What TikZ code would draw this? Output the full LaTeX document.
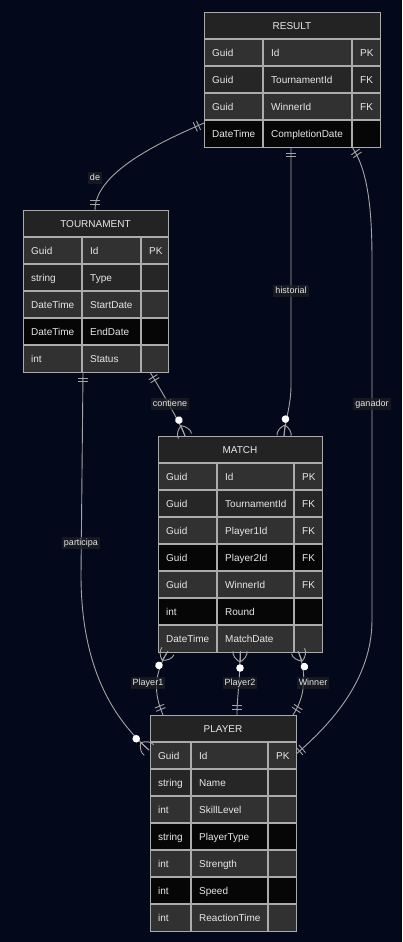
\documentclass[tikz,border=0pt]{standalone}
\usepackage{fontspec}
\setmainfont{Liberation Sans}
\definecolor{bgc}{HTML}{03091A}
\definecolor{hdrc}{HTML}{232323}
\definecolor{rowA}{HTML}{313131}
\definecolor{rowB}{HTML}{262626}
\definecolor{rowK}{HTML}{060606}
\definecolor{bordc}{HTML}{ABABAB}
\definecolor{txtc}{HTML}{E8E8E8}
\definecolor{connc}{HTML}{A5A5A5}
\definecolor{lblbg}{HTML}{1E1F24}
\tikzset{
  conn/.style={draw=connc, line width=0.9pt},
  cellline/.style={draw=bordc, line width=1.2pt},
  tablebox/.style={draw=bordc, line width=1.4pt, anchor=north west, inner sep=0pt, fill=none},
  celltext/.style={anchor=base west, inner sep=0pt, text=txtc, font=\fontsize{10}{11}\selectfont},
  hdrtext/.style={anchor=base, inner sep=0pt, text=txtc, font=\fontsize{10}{11}\selectfont},
  lbl/.style={fill=lblbg, fill opacity=0.75, text opacity=1, text=txtc, inner sep=2pt,
    text height=6.6pt, text depth=1.9pt, font=\fontsize{9}{10}\selectfont},
  onemk/.pic={\draw[conn] (6,-5) -- (6,5) (9.5,-5) -- (9.5,5);},
  zmany/.pic={\draw[conn] (11,0) .. controls (9,-4) and (4,-8) .. (0,-7);
              \draw[conn] (11,0) -- (0,0);
              \draw[conn] (11,0) .. controls (9,4) and (4,8) .. (0,7);
              \fill[white] (17,0) circle (3.8);}
}
% #1 name #2 x #3 y #4 w1 #5 w2 #6 w3 #7 nrows #8 title #9 rows
\newcommand\ertable[9]{%
  \pgfmathsetmacro\tw{#4+#5+#6}%
  \fill[hdrc] (#2,#3) rectangle ++(\tw,27);
  \node[hdrtext] (#1-title) at (#2+\tw/2,#3+17.1) {#8};
  \foreach \ty/\nm/\ky/\cl [count=\i] in {#9} {
    \pgfmathsetmacro\yy{#3+27*\i}
    \fill[\cl] (#2,\yy) rectangle ++(\tw,27);
    \node[celltext] (#1-\i-a) at (#2+8,\yy+17.1) {\ty};
    \node[celltext] (#1-\i-b) at (#2+#4+8,\yy+17.1) {\nm};
    \node[celltext] (#1-\i-c) at (#2+#4+#5+8,\yy+17.1) {\ky};
    \draw[cellline] (#2,\yy) -- ++(\tw,0);
    \draw[cellline] (#2+#4,\yy) -- ++(0,27);
    \draw[cellline] (#2+#4+#5,\yy) -- ++(0,27);
  }
  \node[tablebox, minimum width=\tw, minimum height={27*(#7+1)}] (#1) at (#2,#3) {};
}
\begin{document}
\begin{tikzpicture}[x=1pt,y=-1pt]
\fill[bgc] (0,0) rectangle (402,942);
\useasboundingbox (0,0) rectangle (402,942);

% connector end points
\coordinate (de-a) at (204,123);
\coordinate (de-b) at (95,210);
\coordinate (hi-a) at (291,147);
\coordinate (hi-b) at (284,436);
\coordinate (ga-a) at (352,147);
\coordinate (ga-b) at (295,755);
\coordinate (co-a) at (150,372);
\coordinate (co-b) at (185,436);
\coordinate (pa-a) at (83,372);
\coordinate (pa-b) at (149,750);
\coordinate (p1-a) at (168,651);
\coordinate (p1-b) at (163,715);
\coordinate (p2-a) at (240,651);
\coordinate (p2-b) at (237,715);
\coordinate (wi-a) at (298,651);
\coordinate (wi-b) at (293,715);

% connectors
\draw[conn] (de-a) .. controls (170,138) and (95,170) .. (de-b);
\draw[conn] (hi-a) -- (291,385) .. controls (291,405) and (285.5,419) .. (hi-b);
\draw[conn] (ga-a) .. controls (368,170) and (372,210) .. (372,260) -- (372,620)
            .. controls (372,680) and (330,725) .. (ga-b);
\draw[conn] (co-a) .. controls (165,397) and (180,423) .. (co-b);
\draw[conn] (pa-a) -- (81,575) .. controls (81,670) and (115,720) .. (pa-b);
\draw[conn] (p1-a) .. controls (150,680) and (157,700) .. (p1-b);
\draw[conn] (p2-a) .. controls (240,685) and (237,695) .. (p2-b);
\draw[conn] (wi-a) .. controls (305,668) and (308,692) .. (wi-b);

% tables
\ertable{result}{204}{12}{59}{89}{28}{4}{RESULT}{Guid/Id/PK/rowA, Guid/TournamentId/FK/rowB, Guid/WinnerId/FK/rowA, DateTime/CompletionDate//rowK}
\ertable{tournament}{23}{210}{59}{59}{27}{5}{TOURNAMENT}{Guid/Id/PK/rowA, string/Type//rowB, DateTime/StartDate//rowA, DateTime/EndDate//rowK, int/Status//rowA}
\ertable{match}{158}{436}{59}{77}{28}{7}{MATCH}{Guid/Id/PK/rowA, Guid/TournamentId/FK/rowB, Guid/Player1Id/FK/rowA, Guid/Player2Id/FK/rowK, Guid/WinnerId/FK/rowA, int/Round//rowK, DateTime/MatchDate//rowA}
\ertable{player}{150}{715}{41}{77}{28}{7}{PLAYER}{Guid/Id/PK/rowA, string/Name//rowB, int/SkillLevel//rowA, string/PlayerType//rowK, int/Strength//rowA, int/Speed//rowK, int/ReactionTime//rowA}

% markers
\path (de-a) pic[rotate=204] {onemk};
\path (de-b) pic[rotate=90] {onemk};
\path (hi-a) pic[rotate=-90] {onemk};
\path (hi-b) pic[rotate=85] {zmany};
\path (ga-a) pic[rotate=-55] {onemk};
\path (ga-b) pic[rotate=40.5] {onemk};
\path (co-a) pic[rotate=-59] {onemk};
\path (co-b) pic[rotate=111] {zmany};
\path (pa-a) pic[rotate=-90] {onemk};
\path (pa-b) pic[rotate=138.6] {zmany};
\path (p1-a) pic[rotate=-122] {zmany};
\path (p1-b) pic[rotate=112] {onemk};
\path (p2-a) pic[rotate=-90] {zmany};
\path (p2-b) pic[rotate=90] {onemk};
\path (wi-a) pic[rotate=-67.6] {zmany};
\path (wi-b) pic[rotate=57] {onemk};

% labels
\node[lbl] (l-de) at (95,178) {de};
\node[lbl] (l-hi) at (291,291) {historial};
\node[lbl] (l-ga) at (372,404) {ganador};
\node[lbl] (l-co) at (170,404) {contiene};
\node[lbl] (l-pa) at (81,543) {participa};
\node[lbl] (l-p1) at (148,683) {Player1};
\node[lbl] (l-p2) at (240,683) {Player2};
\node[lbl] (l-wi) at (313,683) {Winner};
\end{tikzpicture}
\end{document}
